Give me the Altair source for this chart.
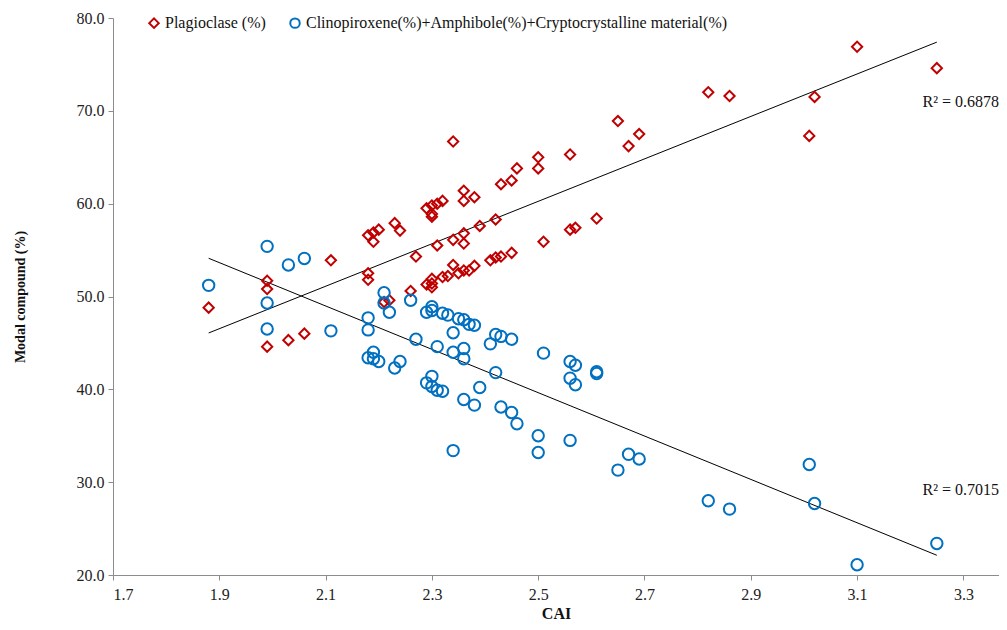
import altair as alt
import pandas as pd

# Plagioclase (%)
plag_x = [1.88, 1.99, 1.99, 1.99, 2.03, 2.06, 2.11, 2.18, 2.18, 2.18, 2.19, 2.19, 2.20, 2.21, 2.22,
          2.23, 2.24, 2.27, 2.26, 2.29, 2.30, 2.31, 2.32, 2.30, 2.30, 2.34, 2.36, 2.36, 2.38, 2.43,
          2.45, 2.46, 2.50, 2.50, 2.56, 2.42, 2.39, 2.36, 2.36, 2.34, 2.31, 2.45, 2.43, 2.42, 2.41,
          2.38, 2.37, 2.36, 2.35, 2.34, 2.33, 2.32, 2.30, 2.29, 2.30, 2.30, 2.51, 2.56, 2.57, 2.61,
          2.65, 2.67, 2.69, 2.82, 2.86, 3.01, 3.02, 3.10, 3.25]
plag_y = [48.8, 51.7, 50.8, 44.6, 45.3, 46.0, 53.9, 52.5, 51.8, 56.6, 56.9, 55.9, 57.2, 49.4, 49.6,
          57.9, 57.1, 54.3, 50.6, 59.5, 59.8, 60.0, 60.3, 58.9, 58.6, 66.7, 61.4, 60.3, 60.7, 62.1,
          62.5, 63.8, 65.0, 63.8, 65.3, 58.3, 57.6, 56.8, 55.7, 56.1, 55.5, 54.7, 54.3, 54.2, 53.9,
          53.3, 52.8, 52.8, 52.5, 53.4, 52.2, 52.1, 51.9, 51.3, 51.4, 51.0, 55.9, 57.2, 57.4, 58.4,
          68.9, 66.2, 67.5, 72.0, 71.6, 67.3, 71.5, 76.9, 74.6]

# Clinopiroxene + Amphibole + Cryptocrystalline material (%)
other_x = [1.88, 1.99, 1.99, 1.99, 2.03, 2.06, 2.11, 2.18, 2.18, 2.18, 2.19, 2.19, 2.20, 2.21, 2.21,
           2.22, 2.23, 2.24, 2.26, 2.27, 2.29, 2.30, 2.30, 2.32, 2.33, 2.35, 2.36, 2.37, 2.38, 2.34,
           2.31, 2.34, 2.36, 2.36, 2.42, 2.41, 2.42, 2.43, 2.45, 2.51, 2.56, 2.57, 2.61, 2.61, 2.56,
           2.57, 2.29, 2.30, 2.30, 2.31, 2.32, 2.36, 2.38, 2.39, 2.43, 2.45, 2.46, 2.50, 2.56, 2.50,
           2.34, 2.65, 2.67, 2.69, 2.82, 2.86, 3.01, 3.02, 3.10, 3.25]
other_y = [51.2, 55.4, 49.3, 46.5, 53.4, 54.1, 46.3, 47.7, 46.4, 43.4, 44.0, 43.3, 43.0, 50.4, 49.3,
           48.3, 42.3, 43.0, 49.6, 45.4, 48.3, 48.9, 48.5, 48.2, 48.0, 47.6, 47.5, 47.0, 46.9, 46.1,
           44.6, 44.0, 44.4, 43.3, 41.8, 44.9, 45.9, 45.7, 45.4, 43.9, 43.0, 42.6, 41.7, 41.9, 41.2,
           40.5, 40.7, 41.4, 40.3, 39.9, 39.8, 38.9, 38.3, 40.2, 38.1, 37.5, 36.3, 35.0, 34.5, 33.2,
           33.4, 31.3, 33.0, 32.5, 28.0, 27.1, 31.9, 27.7, 21.1, 23.4]

series_names = ["Plagioclase (%)",
                "Clinopiroxene(%)+Amphibole(%)+Cryptocrystalline material(%)"]
series_colors = ["#C00000", "#0070C0"]
series_shapes = ["diamond", "circle"]

x_ticks = [1.7, 1.9, 2.1, 2.3, 2.5, 2.7, 2.9, 3.1, 3.3]
y_ticks = [20, 30, 40, 50, 60, 70, 80]

r2_labels = ["R² = 0.6878", "R² = 0.7015"]
r2_x = [3.367, 3.367]
r2_y = [71.0, 29.15]

FONT = "Liberation Serif"

df = pd.concat([
    pd.DataFrame({"CAI": plag_x, "val": plag_y, "series": series_names[0]}),
    pd.DataFrame({"CAI": other_x, "val": other_y, "series": series_names[1]}),
], ignore_index=True)

df_plag = pd.DataFrame({"CAI": plag_x, "val": plag_y})
df_other = pd.DataFrame({"CAI": other_x, "val": other_y})
df_r2 = pd.DataFrame({"CAI": r2_x, "val": r2_y, "label": r2_labels})

xscale = alt.Scale(domain=[1.7, 3.367], nice=False, zero=False)
yscale = alt.Scale(domain=[20, 80], nice=False, zero=False)

xaxis = alt.Axis(values=x_ticks, format=".1f", title="CAI", grid=False,
                 titleFontWeight="bold", titleFontSize=16, titleFont=FONT, titleColor="#111111",
                 labelFont=FONT, labelFontSize=16, labelColor="#222222",
                 domainColor="#8c8c8c", tickColor="#8c8c8c", tickSize=5,
                 labelPadding=6, titlePadding=3)
yaxis = alt.Axis(values=y_ticks, format=".1f", title="Modal compound (%)", grid=False,
                 titleFontWeight="bold", titleFontSize=14, titleFont=FONT, titleColor="#111111",
                 labelFont=FONT, labelFontSize=16, labelColor="#222222",
                 domainColor="#8c8c8c", tickColor="#8c8c8c", tickSize=5,
                 labelPadding=4, titlePadding=49)

points = alt.Chart(df).mark_point(filled=False, strokeWidth=2, opacity=1).encode(
    x=alt.X("CAI:Q", scale=xscale, axis=xaxis),
    y=alt.Y("val:Q", scale=yscale, axis=yaxis),
    color=alt.Color("series:N", scale=alt.Scale(domain=series_names, range=series_colors),
                    legend=alt.Legend(title=None, orient="none", legendX=33, legendY=-3,
                                      direction="horizontal", labelFont=FONT, labelFontSize=16,
                                      labelColor="#111111", columnPadding=20, labelOffset=3,
                                      labelLimit=0, symbolStrokeWidth=2, symbolSize=90)),
    shape=alt.Shape("series:N", scale=alt.Scale(domain=series_names, range=series_shapes),
                    legend=None),
    size=alt.condition(alt.datum.series == series_names[0], alt.value(105), alt.value(130)),
)

reg_plag = alt.Chart(df_plag).transform_regression("CAI", "val").mark_line(
    color="black", strokeWidth=1).encode(x="CAI:Q", y="val:Q")
reg_other = alt.Chart(df_other).transform_regression("CAI", "val").mark_line(
    color="black", strokeWidth=1).encode(x="CAI:Q", y="val:Q")

r2 = alt.Chart(df_r2).mark_text(font=FONT, fontSize=16, color="#111111", align="right").encode(
    x="CAI:Q", y="val:Q", text="label:N")

chart = alt.layer(reg_plag, reg_other, points, r2).properties(
    width=886, height=557,
    autosize=alt.AutoSizeParams(type="none"),
    padding={"left": 105, "top": 10, "right": 0, "bottom": 47},
).configure_view(stroke=None)

chart.save("out.html", embed_options={"renderer": "svg", "actions": False})
